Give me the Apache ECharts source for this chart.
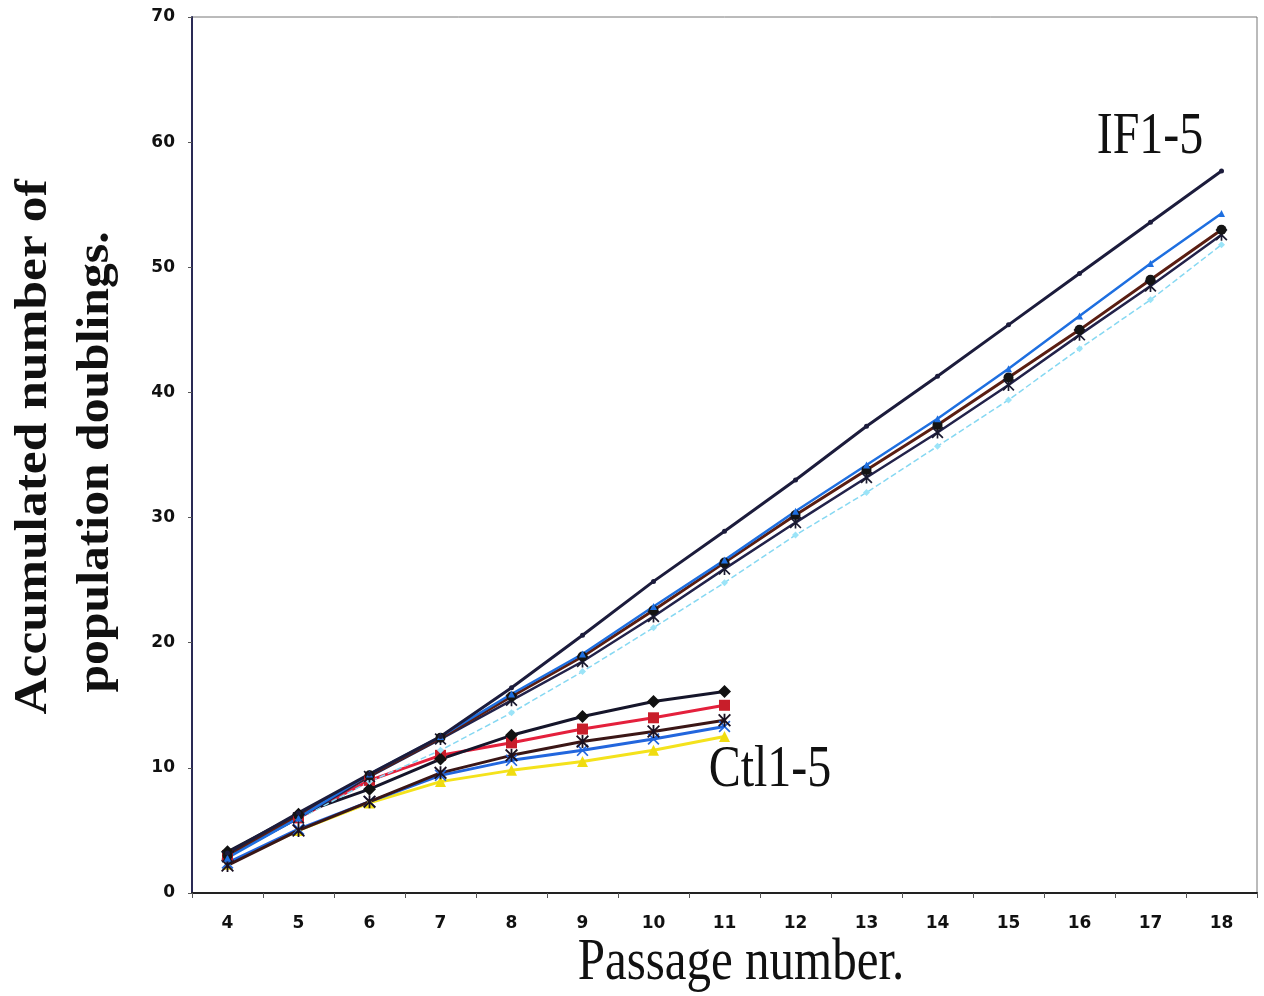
<!DOCTYPE html>
<html>
<head>
<meta charset="utf-8">
<script src="https://cdn.jsdelivr.net/npm/echarts@6/dist/echarts.min.js"></script>
<style>
  html, body { margin: 0; padding: 0; background: #fff; }
  #chart { width: 1264px; height: 996px; }
</style>
</head>
<body>
<div id="chart"></div>
<script>
// passage numbers on the x axis
const passages = ['4', '5', '6', '7', '8', '9', '10', '11', '12', '13', '14', '15', '16', '17', '18']

// IF cultures, passage 4 to 18
const if1 = [3.2, 6.4, 9.5, 12.5, 16.4, 20.6, 24.9, 28.9, 33.0, 37.3, 41.3, 45.4, 49.5, 53.6, 57.7]
const if2 = [2.8, 6.0, 9.5, 12.5, 15.9, 19.1, 22.9, 26.6, 30.5, 34.2, 37.9, 41.9, 46.1, 50.3, 54.3]
const if3 = [3.0, 6.2, 9.4, 12.4, 15.7, 18.9, 22.6, 26.4, 30.2, 33.8, 37.4, 41.2, 45.0, 49.0, 53.0]
const if4 = [2.9, 6.0, 9.3, 12.3, 15.4, 18.5, 22.1, 25.9, 29.6, 33.2, 36.8, 40.6, 44.6, 48.5, 52.6]
const if5 = [3.0, 5.9, 8.9, 11.4, 14.4, 17.7, 21.2, 24.8, 28.6, 32.0, 35.7, 39.4, 43.5, 47.4, 51.8]

// control cultures, passage 4 to 11
const ctl1 = [3.3, 6.3, 8.3, 10.7, 12.6, 14.1, 15.3, 16.1]
const ctl2 = [3.0, 6.0, 9.0, 11.0, 12.0, 13.1, 14.0, 15.0]
const ctl3 = [2.2, 5.0, 7.3, 9.6, 11.0, 12.1, 12.9, 13.8]
const ctl4 = [2.4, 5.1, 7.3, 9.4, 10.6, 11.4, 12.3, 13.3]
const ctl5 = [2.3, 5.0, 7.2, 8.9, 9.8, 10.5, 11.4, 12.5]

const crossPath = 'path://M0,1L1,0L5,4L9,0L10,1L6,5L10,9L9,10L5,6L1,10L0,9L4,5Z'
const starPath = 'path://M0,1L1,0L5,4L9,0L10,1L6,5L10,9L9,10L5,6L1,10L0,9L4,5Z M4.3,0H5.7V10H4.3Z'

function line(data, color, width, symbol, size, markColor, dashed) {
  return {
    type: 'line',
    data: data,
    symbol: symbol,
    symbolSize: size,
    showSymbol: true,
    smooth: false,
    lineStyle: { color: color, width: width, type: dashed ? 'dashed' : 'solid' },
    itemStyle: { color: markColor || color, borderWidth: 0 },
    emphasis: { disabled: true },
    z: 3
  }
}

const chart = echarts.init(document.getElementById('chart'))
chart.setOption({
  animation: false,
  backgroundColor: '#fff',
  grid: {
    left: 192,
    right: 7,
    top: 17,
    bottom: 103,
    show: true,
    borderColor: '#777',
    borderWidth: 1
  },
  xAxis: {
    type: 'category',
    data: passages,
    boundaryGap: true,
    axisLine: { lineStyle: { color: '#222', width: 2 } },
    axisTick: { show: true, length: 5, lineStyle: { color: '#555' } },
    axisLabel: {
      margin: 22,
      color: '#111',
      fontSize: 17,
      fontWeight: 'bold',
      fontFamily: 'DejaVu Sans'
    },
    splitLine: { show: false }
  },
  yAxis: {
    type: 'value',
    min: 0,
    max: 70,
    interval: 10,
    axisLine: { show: true, lineStyle: { color: '#2a2a55', width: 2 } },
    axisTick: { show: true, length: 4, lineStyle: { color: '#555' } },
    axisLabel: {
      margin: 17,
      color: '#111',
      fontSize: 17,
      fontWeight: 'bold',
      fontFamily: 'DejaVu Sans'
    },
    splitLine: { show: false }
  },
  series: [
    line(ctl5, '#f4e21c', 3, 'triangle', 11, '#f0dc10'),
    line(ctl4, '#2266dd', 3, crossPath, 12, '#2266dd'),
    line(ctl3, '#3a1616', 3, starPath, 13, '#1a1020'),
    line(ctl2, '#e4203c', 3, 'rect', 11, '#c81e2a'),
    line(ctl1, '#15152a', 3, 'diamond', 13, '#111'),
    line(if5, '#86d8f2', 1.5, 'diamond', 7, '#9be4f8', true),
    line(if4, '#22224a', 2.5, starPath, 12, '#1a1a30'),
    line(if3, '#5a1e12', 3, 'circle', 10, '#141414'),
    line(if2, '#1e6fe0', 2.5, 'triangle', 7, '#1e6fe0'),
    line(if1, '#1c1c3c', 3, 'circle', 5, '#1c1c3c')
  ],
  graphic: [
    {
      type: 'text', x: 34, y: 447, rotation: Math.PI / 2, scaleX: 1.12,
      style: { text: 'Accumulated number of', fontFamily: 'Liberation Serif', fontWeight: 'bold', fontSize: 46, fill: '#111', align: 'center', verticalAlign: 'middle' }
    },
    {
      type: 'text', x: 96, y: 462, rotation: Math.PI / 2, scaleX: 1.08,
      style: { text: 'population doublings.', fontFamily: 'Liberation Serif', fontWeight: 'bold', fontSize: 46, fill: '#111', align: 'center', verticalAlign: 'middle' }
    },
    {
      type: 'text', x: 741, y: 963, scaleY: 1.22,
      style: { text: 'Passage number.', fontFamily: 'Liberation Serif', fontSize: 49, fill: '#111', align: 'center', verticalAlign: 'middle' }
    },
    {
      type: 'text', x: 1150, y: 138, scaleY: 1.22,
      style: { text: 'IF1-5', fontFamily: 'Liberation Serif', fontSize: 48, fill: '#111', align: 'center', verticalAlign: 'middle' }
    },
    {
      type: 'text', x: 770, y: 771, scaleY: 1.22,
      style: { text: 'Ctl1-5', fontFamily: 'Liberation Serif', fontSize: 48, fill: '#111', align: 'center', verticalAlign: 'middle' }
    }
  ]
})
</script>
</body>
</html>
